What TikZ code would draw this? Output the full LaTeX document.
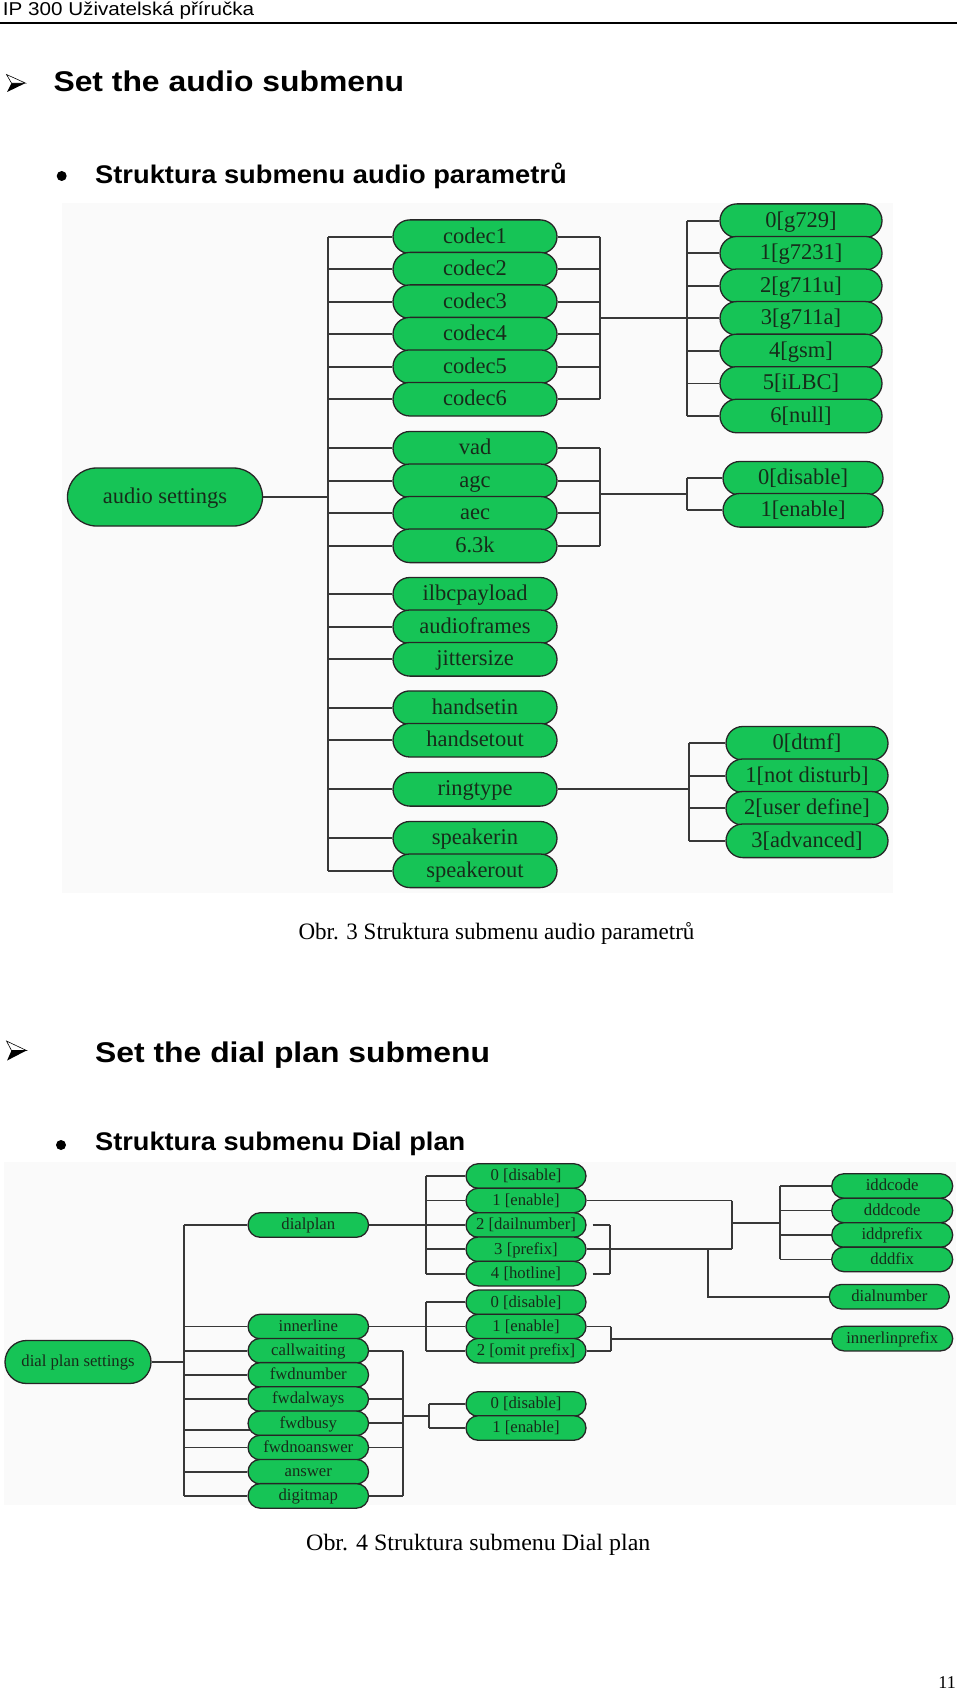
\documentclass[tikz,border=0pt]{standalone}
\usepackage{fontspec}
\usepackage{graphicx}
\setmainfont{Liberation Serif}
\newfontfamily\hsans{Liberation Sans}
\usetikzlibrary{shapes.misc,calc}
\pgfdeclarelayer{pagebg}
\pgfdeclarelayer{lines}
\pgfsetlayers{pagebg,lines,main}
\definecolor{pillgreen}{RGB}{22,196,86}
\definecolor{pilltext}{RGB}{22,44,26}
\definecolor{picbg}{RGB}{250,250,250}
\tikzset{
  pill/.style={rounded rectangle, draw=black!85, line width=1.3pt, fill=pillgreen, text=pilltext, inner sep=0pt},
  apill/.style={pill, minimum width=164pt, minimum height=33.6pt, text height=17pt, text depth=4pt, font=\fontsize{22.5}{24}\selectfont},
  dpill/.style={pill, minimum width=120.5pt, minimum height=24.6pt, text height=12.6pt, text depth=3pt, font=\fontsize{16.7}{18}\selectfont},
  conn/.style={draw=black!78, line width=1.8pt},
  headtxt/.style={anchor=base west, inner sep=0pt, font=\hsans\bfseries\fontsize{28.5}{30}\selectfont},
  bultxt/.style={anchor=base west, inner sep=0pt, font=\hsans\bfseries\fontsize{25.5}{27}\selectfont},
  captxt/.style={anchor=base west, inner sep=0pt, font=\fontsize{23.5}{25}\selectfont},
  arrowbul/.style={line width=0.6pt, line join=miter}
}
\begin{document}
\begin{tikzpicture}[x=1pt,y=-1pt]
\useasboundingbox (0,0) rectangle (960,1693);
\begin{pgfonlayer}{pagebg}
  \fill[white] (0,0) rectangle (960,1693);
  \fill[picbg] (62,203) rectangle (893,893);
  \fill[picbg] (4,1162) rectangle (956,1505);
\end{pgfonlayer}

% ---------- page header ----------
\node[anchor=base west, inner sep=0pt, font=\hsans\fontsize{18.6}{20}\selectfont] (hdr) at (2.7,16) {\scalebox{1.11}[1]{IP 300 Uživatelská příručka}};
\coordinate (rulel) at (0,22.7);
\coordinate (ruler) at (957,22.7);
\draw[line width=2pt] (rulel) -- (ruler);

% ---------- heading 1 ----------
\begin{scope}[shift={(6.5,74.5)}]
  \fill[black] (5,8.6) -- (19,8.6) -- (0.6,17.5) -- cycle;
  \draw[arrowbul, fill=white] (0,0) -- (19,8.6) -- (5,8.6) -- cycle;
\end{scope}
\node[headtxt] (h1) at (53.3,91.7) {\scalebox{1.118}[1]{Set the audio submenu}};
\fill (61.7,176) circle (5);
\node[bultxt] (b1) at (95,183.3) {\scalebox{1.07}[1]{Struktura submenu audio parametrů}};

% ---------- audio diagram ----------
\node[apill, minimum width=195pt, minimum height=58pt] (as) at (165,497) {audio settings};
\foreach \n/\t/\y in {c1/codec1/236.7, c2/codec2/269.2, c3/codec3/301.7, c4/codec4/334.2, c5/codec5/366.7, c6/codec6/399.2,
  vd/vad/448.3, ag/agc/480.8, ae/aec/513.3, kk/6.3k/545.8,
  ilb/ilbcpayload/594.3, af/audioframes/626.8, js/jittersize/659.3,
  hi/handsetin/707.7, ho/handsetout/740.2, rt/ringtype/789.3,
  si/speakerin/838.3, so/speakerout/870.8}
  \node[apill] (\n) at (475,\y) {\t};
\foreach \n/\t/\y in {v0/{0[g729]}/220.7, v1/{1[g7231]}/253.25, v2/{2[g711u]}/285.8, v3/{3[g711a]}/318.35,
  v4/{4[gsm]}/350.9, v5/{5[iLBC]}/383.45, v6/{6[null]}/416}
  \node[apill, minimum width=162pt] (\n) at (801,\y) {\t};
\node[apill, minimum width=160pt] (e0) at (803,478.3) {0[disable]};
\node[apill, minimum width=160pt] (e1) at (803,510.3) {1[enable]};
\foreach \n/\t/\y in {r0/{0[dtmf]}/743.3, r1/{1[not disturb]}/775.8, r2/{2[user define]}/808.3, r3/{3[advanced]}/840.8}
  \node[apill, minimum width=162pt] (\n) at (807,\y) {\t};

\coordinate (atr) at (328,497);
\coordinate (cb) at (600,318.35);
\coordinate (vb) at (687,318.35);
\coordinate (db) at (600,494.3);
\coordinate (eb) at (687,494.3);
\coordinate (rb) at (689,789.3);
\begin{pgfonlayer}{lines}
  \draw[conn] (as.east) -- (atr);
  \draw[conn] (atr |- c1.west) -- (atr |- so.west);
  \foreach \n in {c1,c2,c3,c4,c5,c6,vd,ag,ae,kk,ilb,af,js,hi,ho,rt,si,so}
    \draw[conn] (atr |- \n.west) -- (\n.west);
  \foreach \n in {c1,c2,c3,c4,c5,c6}
    \draw[conn] (\n.east) -- (\n.east -| cb);
  \draw[conn] (cb |- c1.east) -- (cb |- c6.east);
  \draw[conn] (cb) -- (v3.west);
  \draw[conn] (vb |- v0.west) -- (vb |- v6.west);
  \foreach \n in {v0,v1,v2,v4,v5,v6}
    \draw[conn] (vb |- \n.west) -- (\n.west);
  \foreach \n in {vd,ag,ae,kk}
    \draw[conn] (\n.east) -- (\n.east -| db);
  \draw[conn] (db |- vd.east) -- (db |- kk.east);
  \draw[conn] (db) -- (eb);
  \draw[conn] (eb |- e0.west) -- (eb |- e1.west);
  \foreach \n in {e0,e1}
    \draw[conn] (eb |- \n.west) -- (\n.west);
  \draw[conn] (rt.east) -- (rb);
  \draw[conn] (rb |- r0.west) -- (rb |- r3.west);
  \foreach \n in {r0,r1,r2,r3}
    \draw[conn] (rb |- \n.west) -- (\n.west);
\end{pgfonlayer}

\node[captxt] (cap1) at (298.3,939.3) {\scalebox{0.98}[1]{Obr. 3 Struktura submenu audio parametrů}};

% ---------- heading 2 ----------
\begin{scope}[shift={(6.5,1041)}]
  \fill[black] (5,9.5) -- (20,9.5) -- (0.6,19.5) -- cycle;
  \draw[arrowbul, fill=white] (0,0) -- (20,9.5) -- (5,9.5) -- cycle;
\end{scope}
\node[headtxt] (h2) at (95,1062.7) {\scalebox{1.118}[1]{Set the dial plan submenu}};
\fill (61,1145) circle (5);
\node[bultxt] (b2) at (95,1150.7) {\scalebox{1.066}[1]{Struktura submenu Dial plan}};

% ---------- dial plan diagram ----------
\node[dpill, minimum width=146pt, minimum height=43pt] (dps) at (78,1362) {dial plan settings};
\node[dpill] (dp) at (308.3,1225) {dialplan};
\foreach \n/\t/\y in {il/innerline/1326.5, cw/callwaiting/1350.7, fn/fwdnumber/1374.9, fa/fwdalways/1399.1,
  fb/fwdbusy/1423.3, fna/fwdnoanswer/1447.5, an/answer/1471.7, dm/digitmap/1495.9}
  \node[dpill] (\n) at (308.3,\y) {\t};
\foreach \n/\t/\y in {p0/{0 [disable]}/1176, p1/{1 [enable]}/1200.5, p2/{2 [dailnumber]}/1225,
  p3/{3 [prefix]}/1249.3, p4/{4 [hotline]}/1273.6,
  i0/{0 [disable]}/1302.3, i1/{1 [enable]}/1326.5, i2/{2 [omit prefix]}/1350.7,
  q0/{0 [disable]}/1404, q1/{1 [enable]}/1428}
  \node[dpill, minimum width=120pt] (\n) at (526,\y) {\t};
\foreach \n/\t/\y in {idc/iddcode/1186, ddc/dddcode/1210.5, idp/iddprefix/1235, ddf/dddfix/1259.4}
  \node[dpill, minimum width=121pt] (\n) at (892.2,\y) {\t};
\node[dpill, minimum width=120pt] (dn) at (889.3,1296.7) {dialnumber};
\node[dpill, minimum width=121pt] (ilp) at (892.2,1338.6) {innerlinprefix};

\coordinate (dtr) at (184,1362);
\coordinate (pb) at (426,1225);
\coordinate (ib) at (426,1326.5);
\coordinate (fk) at (403,1416);
\coordinate (fk2) at (429,1416);
\coordinate (ej) at (731.7,1222.7);
\coordinate (ek) at (780,1222.7);
\coordinate (hb) at (610,1249.3);
\coordinate (dj) at (707.7,1249.3);
\coordinate (ij) at (610.7,1338.6);
\begin{pgfonlayer}{lines}
  \draw[conn] (dps.east) -- (dtr);
  \draw[conn] (dtr |- dp.west) -- (dtr |- dm.west);
  \foreach \n in {dp,il,cw,fn,fa,fna,an,dm}
    \draw[conn] (dtr |- \n.west) -- (\n.west);
  \draw[conn] ($(dtr |- fb.west)+(0,7)$) -- ($(fb.west)+(8,7)$);
  % dialplan values
  \draw[conn] (dp.east) -- (p2.west);
  \draw[conn] (pb |- p0.west) -- (pb |- p4.west);
  \foreach \n in {p0,p1,p3,p4}
    \draw[conn] (pb |- \n.west) -- (\n.west);
  % innerline values
  \draw[conn] (il.east) -- (i1.west);
  \draw[conn] (ib |- i0.west) -- (ib |- i2.west);
  \foreach \n in {i0,i2}
    \draw[conn] (ib |- \n.west) -- (\n.west);
  % on/off group
  \foreach \n in {cw,fa,fb,fna,dm}
    \draw[conn] (\n.east) -- (\n.east -| fk);
  \draw[conn] (fk |- cw.east) -- (fk |- dm.east);
  \draw[conn] (fk) -- (fk2);
  \draw[conn] (fk2 |- q0.west) -- (fk2 |- q1.west);
  \foreach \n in {q0,q1}
    \draw[conn] (fk2 |- \n.west) -- (\n.west);
  % prefix codes
  \draw[conn] (p1.east) -- (p1.east -| ej);
  \draw[conn] (p3.east) -- (p3.east -| ej);
  \draw[conn] (ej |- p1.east) -- (ej |- p3.east);
  \draw[conn] (ej) -- (ek);
  \draw[conn] (ek |- idc.west) -- (ek |- ddf.west);
  \foreach \n in {idc,ddc,idp,ddf}
    \draw[conn] (ek |- \n.west) -- (\n.west);
  % dailnumber / hotline bracket
  \draw[conn] ($(p2.east)+(6,0)$) -- (p2.east -| hb);
  \draw[conn] ($(p4.east)+(6,0)$) -- (p4.east -| hb);
  \draw[conn] (hb |- p2.east) -- (hb |- p4.east);
  \draw[conn] (dj) -- (dj |- dn.west) -- (dn.west);
  % innerline prefix
  \draw[conn] (i1.east) -- (i1.east -| ij);
  \draw[conn] (i2.east) -- (i2.east -| ij);
  \draw[conn] (ij |- i1.east) -- (ij |- i2.east);
  \draw[conn] (ij) -- (ilp.west);
\end{pgfonlayer}

\node[captxt] (cap2) at (306,1550.7) {\scalebox{1.02}[1]{Obr. 4 Struktura submenu Dial plan}};
\node[anchor=base east, inner sep=0pt, font=\fontsize{18}{20}\selectfont] (pg) at (956,1688) {11};
\end{tikzpicture}
\end{document}
